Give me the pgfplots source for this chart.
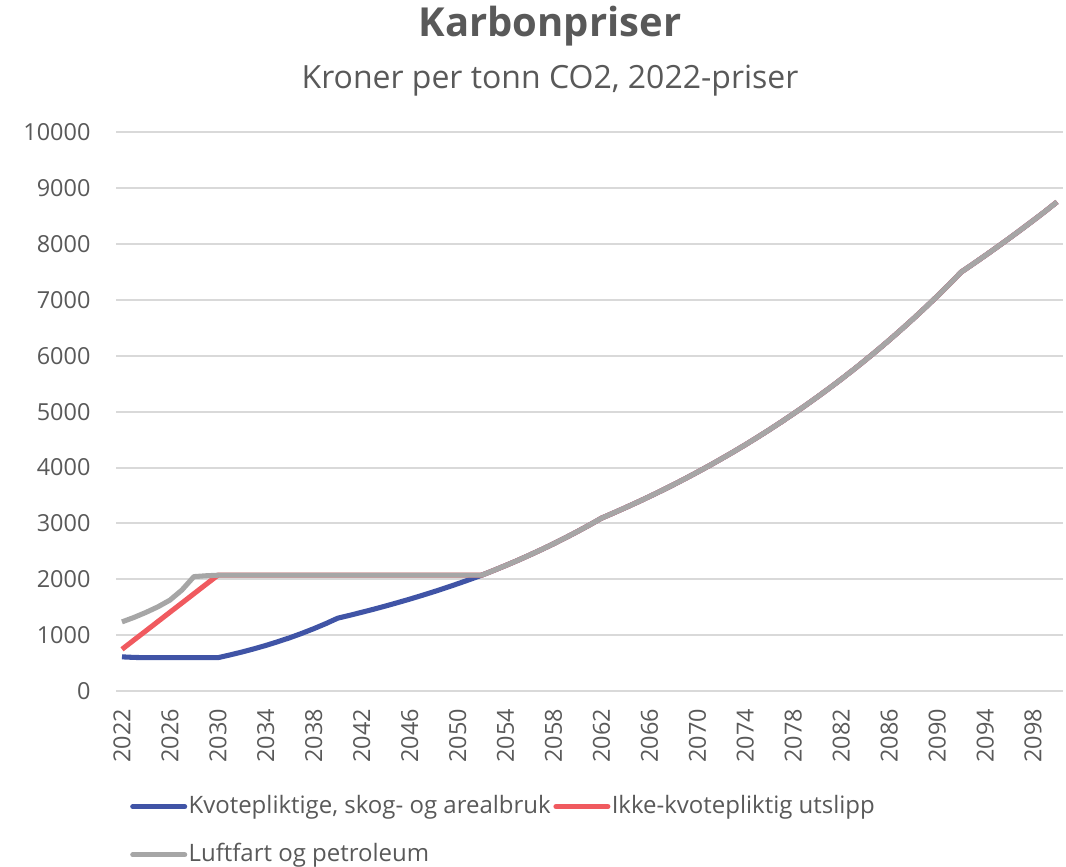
\documentclass[border=0pt]{standalone}
\usepackage{pgfplots}
\usepackage{pgfplotstable}
\pgfplotsset{compat=1.18}
\usepackage{fontspec}
\setmainfont{Open Sans}
\definecolor{cblue}{RGB}{64,84,166}
\definecolor{cred}{RGB}{240,90,95}
\definecolor{cgray}{RGB}{166,166,166}
\definecolor{txt}{RGB}{89,89,89}
\definecolor{gridc}{RGB}{217,217,217}
\pgfplotstableread{
year b r g
2022 615 750 1240
2023 605 916 1320
2024 600 1081 1410
2025 600 1247 1510
2026 600 1413 1630
2027 600 1578 1810
2028 600 1744 2050
2029 600 1910 2065
2030 600 2075 2075
2031 649 2075 2075
2032 701 2075 2075
2033 758 2075 2075
2034 819 2075 2075
2035 886 2075 2075
2036 957 2075 2075
2037 1035 2075 2075
2038 1119 2075 2075
2039 1209 2075 2075
2040 1307 2075 2075
2041 1358 2075 2075
2042 1412 2075 2075
2043 1467 2075 2075
2044 1525 2075 2075
2045 1585 2075 2075
2046 1647 2075 2075
2047 1712 2075 2075
2048 1779 2075 2075
2049 1849 2075 2075
2050 1922 2075 2075
2051 1997 2075 2075
2052 2075 2075 2075
2053 2160 2160 2160
2054 2248 2248 2248
2055 2339 2339 2339
2056 2435 2435 2435
2057 2534 2534 2534
2058 2637 2637 2637
2059 2745 2745 2745
2060 2857 2857 2857
2061 2973 2973 2973
2062 3095 3095 3095
2063 3188 3188 3188
2064 3283 3283 3283
2065 3381 3381 3381
2066 3482 3482 3482
2067 3586 3586 3586
2068 3693 3693 3693
2069 3804 3804 3804
2070 3918 3918 3918
2071 4035 4035 4035
2072 4156 4156 4156
2073 4280 4280 4280
2074 4408 4408 4408
2075 4540 4540 4540
2076 4676 4676 4676
2077 4816 4816 4816
2078 4960 4960 4960
2079 5108 5108 5108
2080 5261 5261 5261
2081 5418 5418 5418
2082 5580 5580 5580
2083 5747 5747 5747
2084 5919 5919 5919
2085 6096 6096 6096
2086 6278 6278 6278
2087 6466 6466 6466
2088 6659 6659 6659
2089 6858 6858 6858
2090 7063 7063 7063
2091 7274 7274 7274
2092 7495 7495 7495
2093 7641 7641 7641
2094 7790 7790 7790
2095 7942 7942 7942
2096 8097 8097 8097
2097 8255 8255 8255
2098 8416 8416 8416
2099 8580 8580 8580
2100 8750 8750 8750
}\data
\begin{document}
\begin{tikzpicture}
\begin{axis}[
  scale only axis,
  width=355.3pt, height=209.8pt,
  xmin=2021.5, xmax=2100.5,
  ymin=0, ymax=10000,
  xtick={2022,2026,...,2098},
  ytick={0,1000,...,10000},
  scaled y ticks=false,
  scaled x ticks=false,
  /pgf/number format/.cd, 1000 sep={}, assume math mode=true, /pgfplots/.cd,
  axis line style={draw=none},
  major tick length=0pt,
  xmajorgrids=false,
  ymajorgrids=true,
  grid style={draw=gridc, line width=0.75pt},
  ticklabel style={font=\fontsize{8.8}{10}\selectfont, text=txt},
  xticklabel style={rotate=90, anchor=east, inner sep=0pt},
  yticklabel style={anchor=east, inner sep=0pt},
  xticklabel shift=6.4pt,
  yticklabel shift=9.4pt,
  clip=false,
  legend columns=2,
  legend cell align=left,
  legend style={at={(rel axis cs:0.006,-0.172)}, anchor=north west, draw=none, fill=none,
    font=\fontsize{9}{11}\selectfont, text=txt,
    nodes={inner sep=0.5pt, text height=7pt, text depth=2pt},
    row sep=8.1pt,
    /tikz/every even column/.append style={column sep=0.5pt}},
  legend image code/.code={\draw[#1, line width=1.9pt, line cap=round] (0pt,0pt) -- (19.5pt,0pt);},
]
\addplot[cblue, line width=1.9pt, line join=round] table[x=year, y=b] {\data};
\addlegendentry{Kvotepliktige, skog- og arealbruk}
\addplot[cred, line width=1.9pt, line join=round] table[x=year, y=r] {\data};
\addlegendentry{Ikke-kvotepliktig utslipp}
\addplot[cgray, line width=1.9pt, line join=round] table[x=year, y=g] {\data};
\addlegendentry{Luftfart og petroleum}
\node[font=\bfseries\fontsize{15}{18}\selectfont, text=txt, anchor=base] at (rel axis cs:0.4583,1.1717) {Karbonpriser};
\node[font=\fontsize{12}{14}\selectfont, text=txt, anchor=base] at (rel axis cs:0.4583,1.0787) {Kroner per tonn CO2, 2022-priser};
\coordinate (bl) at (rel axis cs:-0.12249,-0.31306);
\coordinate (tr) at (rel axis cs:1.003168,1.23614);
\end{axis}
\pgfresetboundingbox
\path (bl) rectangle (tr);
\end{tikzpicture}
\end{document}
